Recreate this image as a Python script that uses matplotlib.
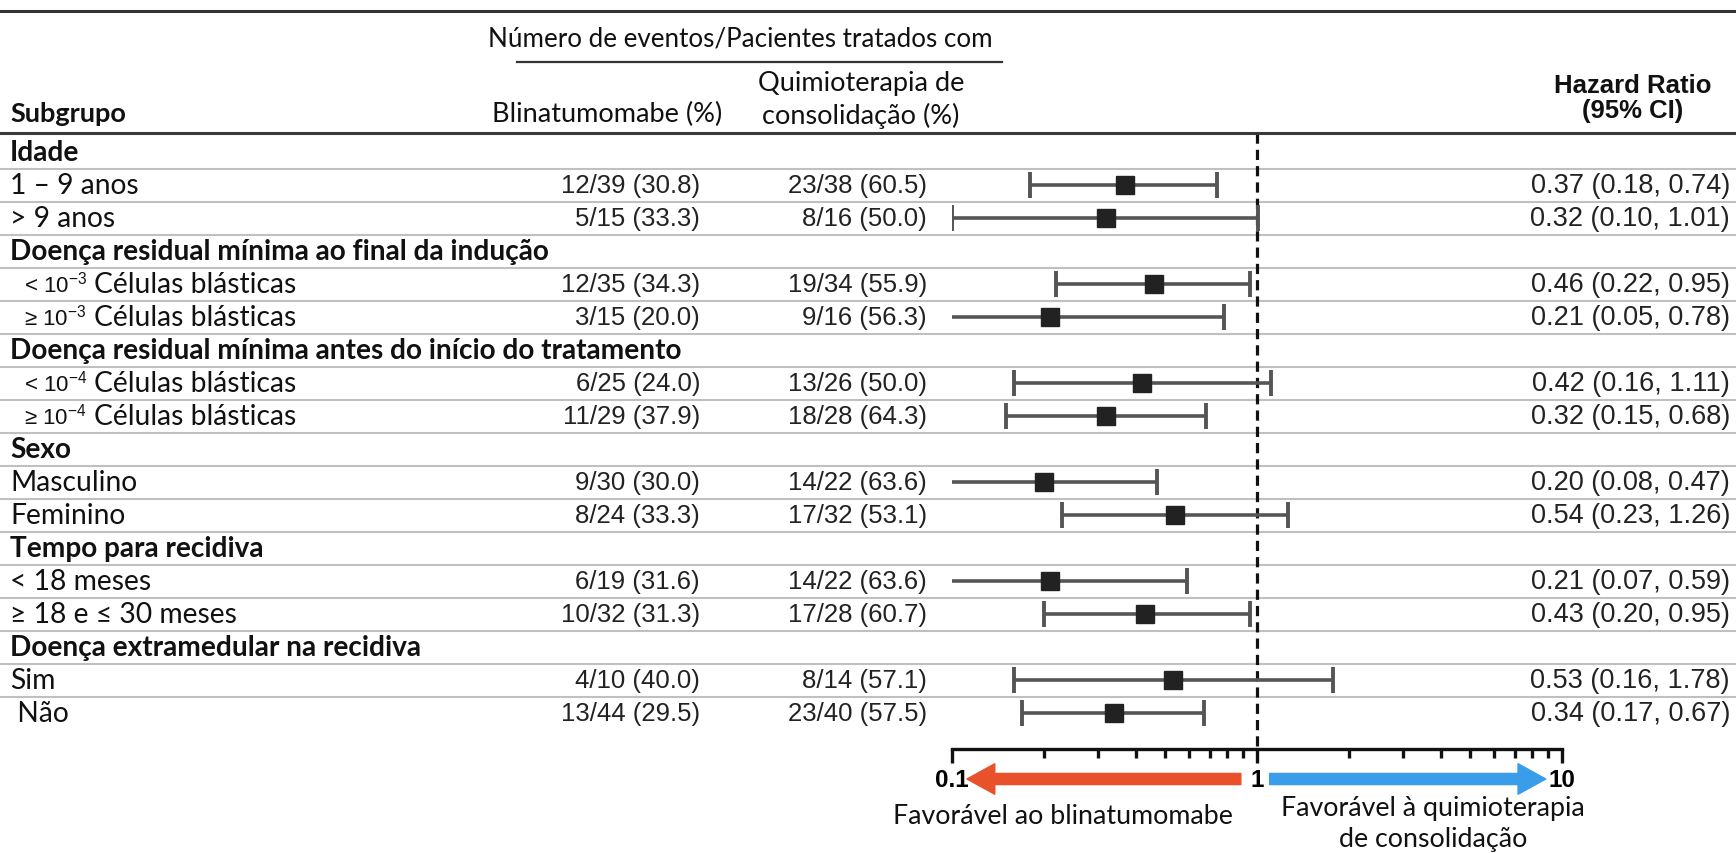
import matplotlib
matplotlib.use("Agg")
import matplotlib.pyplot as plt
from matplotlib.lines import Line2D
from matplotlib.ticker import LogLocator, NullFormatter
from matplotlib.transforms import blended_transform_factory

# ---- data ---------------------------------------------------------------
row_labels = [
    "Idade",
    "1 \u2013 9 anos",
    "> 9 anos",
    "Doença residual mínima ao final da indução",
    "< 10$^{\\mathregular{-3}}$|Células blásticas",
    "\u2265 10$^{\\mathregular{-3}}$|Células blásticas",
    "Doença residual mínima antes do início do tratamento",
    "< 10$^{\\mathregular{-4}}$|Células blásticas",
    "\u2265 10$^{\\mathregular{-4}}$|Células blásticas",
    "Sexo",
    "Masculino",
    "Feminino",
    "Tempo para recidiva",
    "< 18 meses",
    "\u2265 18 e \u2264 30 meses",
    "Doença extramedular na recidiva",
    "Sim",
    " Não",
]
is_header = [True, False, False, True, False, False, True, False, False,
             True, False, False, True, False, False, True, False, False]

blin_text = ["12/39 (30.8)", "5/15 (33.3)", "12/35 (34.3)", "3/15 (20.0)",
             "6/25 (24.0)", "11/29 (37.9)", "9/30 (30.0)", "8/24 (33.3)",
             "6/19 (31.6)", "10/32 (31.3)", "4/10 (40.0)", "13/44 (29.5)"]
quimio_text = ["23/38 (60.5)", "8/16 (50.0)", "19/34 (55.9)", "9/16 (56.3)",
               "13/26 (50.0)", "18/28 (64.3)", "14/22 (63.6)", "17/32 (53.1)",
               "14/22 (63.6)", "17/28 (60.7)", "8/14 (57.1)", "23/40 (57.5)"]
hr_est = [0.37, 0.32, 0.46, 0.21, 0.42, 0.32, 0.20, 0.54, 0.21, 0.43, 0.53, 0.34]
hr_low = [0.18, 0.10, 0.22, 0.05, 0.16, 0.15, 0.08, 0.23, 0.07, 0.20, 0.16, 0.17]
hr_high = [0.74, 1.01, 0.95, 0.78, 1.11, 0.68, 0.47, 1.26, 0.59, 0.95, 1.78, 0.67]

# ---- layout (pixels of the 1736x854 canvas) ------------------------------
W, H = 1736, 854
ROW0, ROW_STEP = 153, 33
AXIS_Y = 750
LABEL_FONT = "Lato"
NUM_FONT = "Liberation Sans"
TXT = "#111111"


def row_of(py):
    return (py - ROW0) / ROW_STEP


def fx(px):
    return px / W


def fy(py):
    return 1 - py / H


fig = plt.figure(figsize=(W / 100, H / 100), dpi=100)
ax = fig.add_axes([fx(952), 0, (1562 - 952) / W, 1])
ax.set_xscale("log")
ax.set_xlim(0.1, 10)
ax.set_ylim(row_of(H), row_of(0))
tt = blended_transform_factory(fig.transFigure, ax.transData)

# horizontal rules
fig.add_artist(Line2D([0, 1], [fy(12)] * 2, transform=fig.transFigure, color="#333333", lw=2.2))
fig.add_artist(Line2D([0, 1], [fy(134)] * 2, transform=fig.transFigure, color="#3a3a3a", lw=2.2))
fig.add_artist(Line2D([fx(517), fx(1002)], [fy(63)] * 2, transform=fig.transFigure, color="#333333", lw=1.6))
for k in range(len(row_labels) - 1):
    ax.plot([0, 1], [k + 0.5] * 2, transform=tt, color="#c0c0c0", lw=1.5, clip_on=False, zorder=1)

# column headers
fig.text(fx(488), fy(39), "Número de eventos/Pacientes tratados com", fontsize=18.7,
         family=LABEL_FONT, va="center", ha="left", color=TXT)
fig.text(fx(607), fy(114), "Blinatumomabe (%)", fontsize=19.5, family=LABEL_FONT,
         va="center", ha="center", color=TXT)
fig.text(fx(861), fy(83), "Quimioterapia de", fontsize=19.5, family=LABEL_FONT,
         va="center", ha="center", color=TXT)
fig.text(fx(861), fy(116), "consolidação (%)", fontsize=19.5, family=LABEL_FONT,
         va="center", ha="center", color=TXT)
fig.text(fx(10), fy(114), "Subgrupo", fontsize=19.5, family=LABEL_FONT, weight="bold",
         va="center", ha="left", color=TXT)
fig.text(fx(1633), fy(86), "Hazard Ratio", fontsize=18.5, family=NUM_FONT, weight="bold",
         va="center", ha="center", color=TXT)
fig.text(fx(1633), fy(111), "(95% CI)", fontsize=18.5, family=NUM_FONT, weight="bold",
         va="center", ha="center", color=TXT)

# row labels and numbers
data_rows = [i for i, h in enumerate(is_header) if not h]
for i, lab in enumerate(row_labels):
    if is_header[i]:
        ax.text(fx(10), i, lab, transform=tt, fontsize=20.2, family=LABEL_FONT,
                weight="bold", va="center", ha="left", color=TXT)
    elif "|" in lab:
        pre, post = lab.split("|")
        ax.text(fx(24), i, pre, transform=tt, fontsize=16, family=NUM_FONT,
                va="center", ha="left", color=TXT)
        ax.text(fx(94), i, post, transform=tt, fontsize=20.3, family=LABEL_FONT,
                va="center", ha="left", color=TXT)
    else:
        ax.text(fx(10), i, lab, transform=tt, fontsize=20.3, family=[LABEL_FONT, "DejaVu Sans"],
                va="center", ha="left", color=TXT)

for r, b, q, e, lo, hi in zip(data_rows, blin_text, quimio_text, hr_est, hr_low, hr_high):
    ax.text(fx(700), r, b, transform=tt, fontsize=18.5, family=NUM_FONT,
            va="center", ha="right", color="#222222")
    ax.text(fx(927), r, q, transform=tt, fontsize=18.5, family=NUM_FONT,
            va="center", ha="right", color="#222222")
    ax.text(fx(1730), r, f"{e:.2f} ({lo:.2f}, {hi:.2f})", transform=tt, fontsize=19.5,
            family=NUM_FONT, va="center", ha="right", color="#222222")

# forest marks
est = list(hr_est)
err_lo = [e - lo for e, lo in zip(hr_est, hr_low)]
err_hi = [hi - e for e, hi in zip(hr_est, hr_high)]
ax.errorbar(est, data_rows, xerr=[err_lo, err_hi], fmt="none", ecolor="#555555",
            elinewidth=2.6, capsize=9.5, capthick=2.8, zorder=3)
ax.plot(est, data_rows, ls="none", marker="s", ms=12.5, color="#222222", zorder=4)

# reference line at HR = 1
ax.plot([1, 1], [row_of(134), row_of(AXIS_Y)], color="#111111", lw=2.3,
        ls=(0, (3.2, 1.9)), zorder=2)

# log axis
for s in ("top", "left", "right"):
    ax.spines[s].set_visible(False)
ax.spines["bottom"].set_position(("data", row_of(AXIS_Y)))
ax.spines["bottom"].set_linewidth(2.4)
ax.spines["bottom"].set_color("#111111")
ax.set_yticks([])
ax.set_xticks([0.1, 1, 10], labels=["0.1", "1", "10"])
ax.xaxis.set_minor_locator(LogLocator(base=10, subs=range(2, 10)))
ax.xaxis.set_minor_formatter(NullFormatter())
ax.tick_params(axis="x", which="major", direction="out", length=10, width=2.4,
               color="#111111", pad=4, labelsize=17.5)
ax.tick_params(axis="x", which="minor", direction="out", length=6.5, width=2.4, color="#111111")
for t in ax.get_xticklabels():
    t.set_fontfamily(NUM_FONT)
    t.set_fontweight("bold")
ax.patch.set_visible(False)

# direction arrows
arrow_y = row_of(780)
astyle = "simple,head_length=2.0,head_width=2.2,tail_width=0.8"
ax.annotate("", xy=(0.112, arrow_y), xytext=(0.885, arrow_y),
            arrowprops=dict(arrowstyle=astyle, color="#e8512a", shrinkA=0, shrinkB=0,
                            mutation_scale=10))
ax.annotate("", xy=(8.85, arrow_y), xytext=(1.1, arrow_y),
            arrowprops=dict(arrowstyle=astyle, color="#3a9de9", shrinkA=0, shrinkB=0,
                            mutation_scale=10))

fig.text(fx(1063), fy(817), "Favorável ao blinatumomabe", fontsize=19.3, family=LABEL_FONT,
         va="center", ha="center", color=TXT)
fig.text(fx(1433), fy(809), "Favorável à quimioterapia", fontsize=19.3, family=LABEL_FONT,
         va="center", ha="center", color=TXT)
fig.text(fx(1433), fy(840), "de consolidação", fontsize=19.3, family=LABEL_FONT,
         va="center", ha="center", color=TXT)

fig.savefig("out.png", dpi=100)
